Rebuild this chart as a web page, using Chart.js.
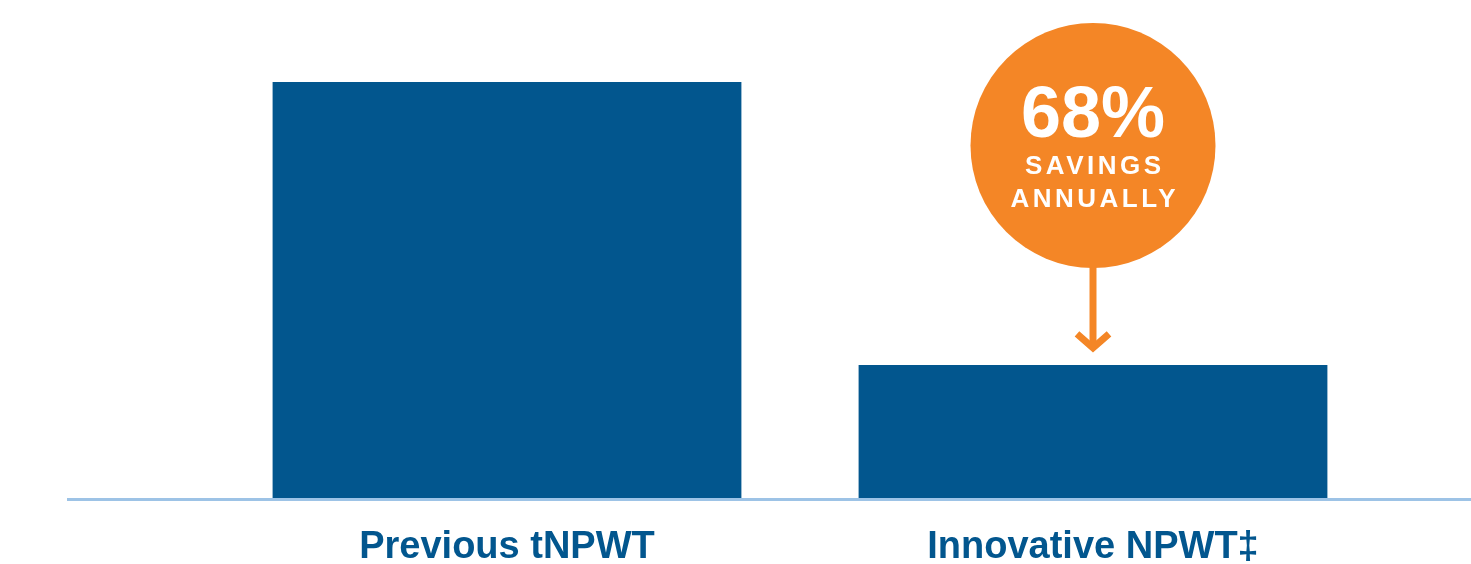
<!DOCTYPE html>
<html>
<head>
<meta charset="utf-8">
<script src="https://cdn.jsdelivr.net/npm/chart.js@4"></script>
<style>
  html, body { margin: 0; padding: 0; background: #fff; }
  #wrap { width: 1471px; height: 564px; }
</style>
</head>
<body>
<div id="wrap"><canvas id="myChart"></canvas></div>
<script>
// chart data
let categories = ["Previous tNPWT", "Innovative NPWT\u2021"];
let costValues = [100, 32];
let calloutLines = ["68%", "SAVINGS", "ANNUALLY"];

let BLUE = "#02568E";
let ORANGE = "#F48626";
let FONT = "'Liberation Sans', Arial, sans-serif";

// light blue base line running wider than the plot area
let baseLine = {
  id: "baseLine",
  afterDatasetsDraw: (chart) => {
    let ctx = chart.ctx;
    let y = chart.scales.y.getPixelForValue(0) + 1.5;
    ctx.save();
    ctx.strokeStyle = "#9DC3E6";
    ctx.lineWidth = 3;
    ctx.beginPath();
    ctx.moveTo(67, y);
    ctx.lineTo(chart.width, y);
    ctx.stroke();
    ctx.restore();
  }
};

// orange bubble + arrow above the second bar
let callout = {
  id: "callout",
  afterDatasetsDraw: (chart) => {
    let ctx = chart.ctx;
    let bar = chart.getDatasetMeta(0).data[1];
    let cx = bar.x;
    let cy = chart.chartArea.top + 63.5;
    let r = 122.5;
    let tipY = bar.y - 14;

    ctx.save();
    ctx.fillStyle = ORANGE;
    ctx.beginPath();
    ctx.arc(cx, cy, r, 0, Math.PI * 2);
    ctx.fill();

    ctx.strokeStyle = ORANGE;
    ctx.lineWidth = 7;
    ctx.beginPath();
    ctx.moveTo(cx, cy + r - 2);
    ctx.lineTo(cx, tipY - 4);
    ctx.stroke();

    ctx.lineJoin = "miter";
    ctx.beginPath();
    ctx.moveTo(cx - 16, tipY - 17);
    ctx.lineTo(cx, tipY - 3);
    ctx.lineTo(cx + 16, tipY - 17);
    ctx.stroke();

    ctx.fillStyle = "#fff";
    ctx.textAlign = "center";
    ctx.textBaseline = "alphabetic";
    ctx.font = `bold 72px ${FONT}`;
    ctx.fillText(calloutLines[0], cx, cy - 9);

    ctx.font = `bold 26px ${FONT}`;
    ctx.letterSpacing = "3.5px";
    ctx.fillText(calloutLines[1], cx + 1.75, cy + 28);
    ctx.fillText(calloutLines[2], cx + 1.75, cy + 61);
    ctx.restore();
  }
};

let config = {
  type: "bar",
  data: {
    labels: categories,
    datasets: [
      {
        data: costValues,
        backgroundColor: BLUE,
        borderWidth: 0,
        barPercentage: 0.8,
        categoryPercentage: 1.0,
      },
    ],
  },
  options: {
    responsive: true,
    maintainAspectRatio: false,
    animation: false,
    devicePixelRatio: 1,
    layout: {
      padding: { left: 214, right: 85, top: 82, bottom: 0 },
    },
    plugins: {
      legend: { display: false },
      tooltip: { enabled: false },
    },
    scales: {
      x: {
        grid: { display: false, drawTicks: false },
        border: { display: false },
        afterFit: (scale) => {
          scale.height = 66;
        },
        ticks: {
          color: BLUE,
          padding: 31,
          font: { family: FONT, size: 38, weight: "bold", lineHeight: 1 },
        },
      },
      y: {
        display: false,
        min: 0,
        max: 100,
      },
    },
  },
  plugins: [baseLine, callout],
};

const myChart = new Chart(document.getElementById("myChart"), config);
</script>
</body>
</html>
